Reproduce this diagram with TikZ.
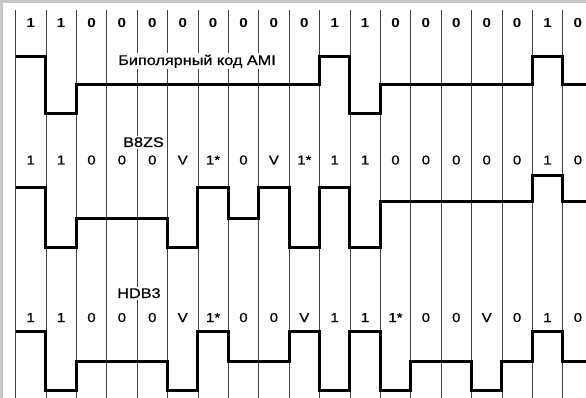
\documentclass[tikz,border=0pt]{standalone}
\usepackage{fontspec}
\setmainfont{Liberation Sans}
\newfontfamily\medfont[FakeBold=0.7]{Liberation Sans}
\begin{document}
\begin{tikzpicture}[x=1pt,y=-1pt,
  gridline/.style={draw=black!75, line width=0.8pt},
  wave/.style={draw=black, line width=3pt, line join=miter},
  lbl/.style={anchor=base, inner sep=0pt, font=\fontsize{13}{13}\selectfont\medfont},
  toplbl/.style={lbl, font=\fontsize{13}{13}\selectfont\bfseries},
  ttl/.style={anchor=base, inner sep=1.5pt, fill=white, font=\fontsize{14}{14}\selectfont\medfont}]
\useasboundingbox (0,0) rectangle (586,398);
\fill[white] (0,0) rectangle (586,398);
\fill[black!22] (0,0) rectangle (586,3);
\fill[black!22] (0,0) rectangle (3,398);
% grid
\foreach \k in {0,...,18} \draw[gridline] ({15.5+30.4*\k},10) -- ({15.5+30.4*\k},398);
% titles
\node[ttl] (ami) at (197,65) {\scalebox{1.16}[1]{Биполярный код AMI}};
\node[ttl] (b8zs) at (143.5,147) {\scalebox{1.16}[1]{B8ZS}};
\node[ttl] (hdb3) at (139,298) {\scalebox{1.16}[1]{HDB3}};
% labels
\foreach \t [count=\i from 0] in {1,1,0,0,0,0,0,0,0,0,1,1,0,0,0,0,0,1,0}
  \node[toplbl] (t\i) at ({30.7+30.4*\i},27.5) {\scalebox{1.16}[1]{\t}};
\foreach \t [count=\i from 0] in {1,1,0,0,0,V,1*,0,V,1*,1,1,0,0,0,0,0,1,0}
  \node[lbl] (b\i) at ({30.7+30.4*\i},164.5) {\scalebox{1.16}[1]{\t}};
\foreach \t [count=\i from 0] in {1,1,0,0,0,V,1*,0,0,V,1,1,1*,0,0,V,0,1,0}
  \node[lbl] (h\i) at ({30.7+30.4*\i},322) {\scalebox{1.16}[1]{\t}};
% waveforms
\draw[wave] (15.5,57) \foreach \k/\l in {1/114,2/85,10/57,11/114,12/85,17/57,18/85} { -| ({15.5+30.4*\k},\l) } -- (592,85);
\draw[wave] (15.5,188) \foreach \k/\l in {1/247,2/218,5/247,6/188,7/218,8/188,9/247,10/188,11/247,12/202,17/176,18/202} { -| ({15.5+30.4*\k},\l) } -- (592,202);
\draw[wave] (15.5,331) \foreach \k/\l in {1/390,2/361,5/390,6/331,7/361,9/331,10/390,11/331,12/390,13/361,15/390,16/361,17/331,18/361} { -| ({15.5+30.4*\k},\l) } -- (592,361);
\end{tikzpicture}
\end{document}
